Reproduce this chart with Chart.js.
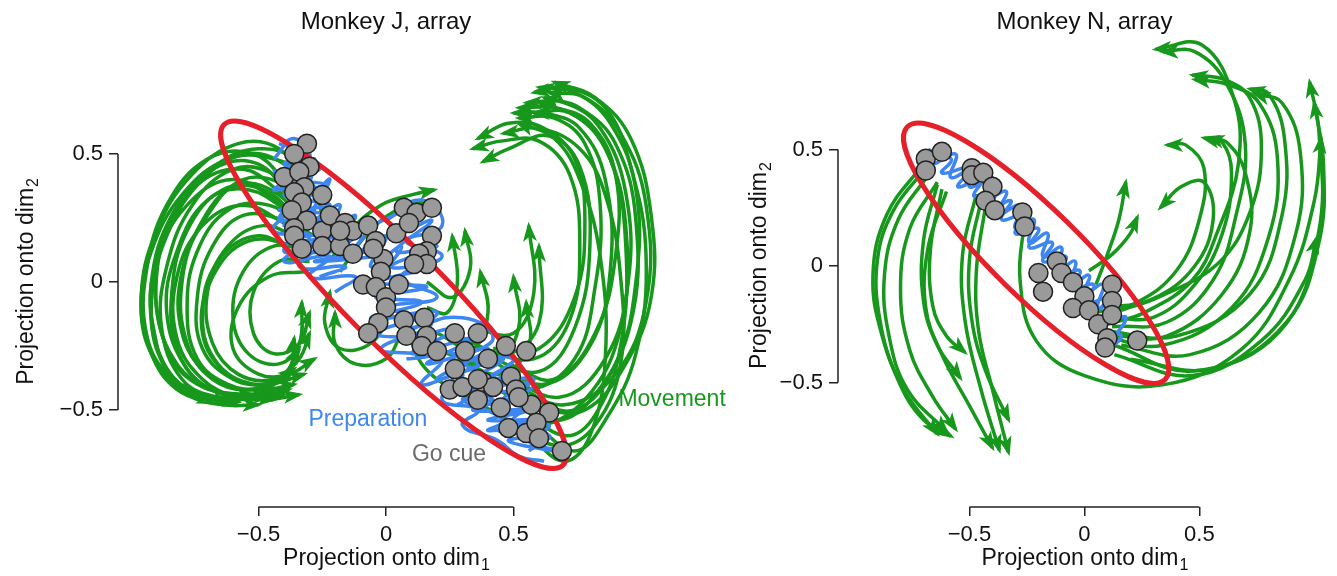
<!DOCTYPE html>
<html>
<head>
<meta charset="utf-8">
<script src="https://cdn.jsdelivr.net/npm/chart.js@4.4.1/dist/chart.umd.min.js"></script>
<style>
html, body { margin: 0; padding: 0; background: #fff; }
#wrap { position: relative; width: 1337px; height: 576px; overflow: hidden; }
#cj { position: absolute; left: 0; top: 0; }
#cn { position: absolute; left: 700px; top: 0; }
</style>
</head>
<body>
<div id="wrap">
  <canvas id="cj" width="780" height="576"></canvas>
  <canvas id="cn" width="637" height="576"></canvas>
</div>
<script>
// axis ticks
var tickVals = [-0.5, 0, 0.5];
var tickText = ['\u22120.5', '0', '0.5'];

// ---- Monkey J ----
var jGoCue = [[-0.31,0.54],[-0.36,0.50],[-0.30,0.45],[-0.40,0.41],[-0.34,0.43],[-0.32,0.37],[-0.25,0.34],[-0.36,0.35],[-0.33,0.31],[-0.37,0.28],
  [-0.31,0.24],[-0.36,0.21],[-0.36,0.18],[-0.33,0.13],[-0.25,0.20],[-0.25,0.14],[-0.22,0.26],[-0.18,0.14],[-0.16,0.23],[-0.13,0.20],
  [-0.13,0.11],[-0.18,0.20],[-0.07,0.22],[-0.04,0.16],[-0.01,0.09],[-0.02,0.04],[-0.09,-0.01],[-0.04,-0.02],[0.00,-0.06],[0.00,-0.10],
  [0.05,-0.01],[-0.03,-0.16],[0.07,-0.15],[0.15,-0.14],[0.04,0.19],[0.07,0.29],[0.12,0.27],[0.18,0.29],[0.09,0.23],[0.18,0.18],
  [0.16,0.12],[0.13,0.11],[0.16,0.07],[0.11,0.07],[-0.07,-0.20],[0.08,-0.21],[0.16,-0.21],[0.14,-0.25],[0.20,-0.27],[0.27,-0.20],
  [0.36,-0.20],[0.31,-0.27],[0.27,-0.34],[0.25,-0.42],[0.30,-0.41],[0.36,-0.46],[0.40,-0.30],[0.47,-0.25],[0.55,-0.27],[0.49,-0.37],
  [0.38,-0.39],[0.42,-0.41],[0.51,-0.42],[0.45,-0.49],[0.57,-0.48],[0.64,-0.51],[0.48,-0.57],[0.55,-0.59],[0.59,-0.55],[0.60,-0.61],
  [0.69,-0.66],[0.52,-0.45],[0.36,-0.38],[-0.05,0.13]];

var jPrep1 = [[-0.42,0.54],[-0.30,0.50],[-0.40,0.46],[-0.26,0.44],[-0.42,0.40],[-0.24,0.38],[-0.40,0.34],[-0.22,0.30],[-0.42,0.28],[-0.18,0.26],
  [-0.40,0.22],[-0.14,0.22],[-0.38,0.16],[-0.10,0.18],[-0.34,0.12],[-0.08,0.12],[-0.28,0.08],[-0.02,0.10]];
var jPrep2 = [[-0.36,0.52],[-0.34,0.40],[-0.28,0.48],[-0.30,0.34],[-0.22,0.40],[-0.30,0.24],[-0.18,0.30],[-0.26,0.16],[-0.12,0.26],[-0.20,0.12],
  [-0.06,0.22],[-0.14,0.10],[0.00,0.18],[-0.06,0.06],[0.06,0.14],[-0.02,0.02]];
var jPrep3 = [[-0.06,0.22],[0.10,0.28],[0.02,0.18],[0.18,0.24],[0.04,0.12],[0.20,0.14],[0.02,0.06],[0.18,0.06],[-0.02,0.00],[0.16,-0.02],
  [-0.04,-0.06],[0.14,-0.08],[-0.06,-0.14],[0.12,-0.14],[-0.04,-0.20],[0.10,-0.22]];
var jPrep4 = [[0.00,-0.14],[0.20,-0.12],[0.06,-0.22],[0.28,-0.18],[0.10,-0.28],[0.34,-0.22],[0.16,-0.32],[0.40,-0.26],[0.20,-0.38],[0.46,-0.30],
  [0.24,-0.44],[0.50,-0.36],[0.28,-0.48]];
var jPrep5 = [[0.26,-0.30],[0.44,-0.40],[0.30,-0.42],[0.52,-0.44],[0.34,-0.50],[0.56,-0.50],[0.40,-0.54],[0.60,-0.54],[0.44,-0.58],[0.62,-0.60],
  [0.48,-0.62],[0.66,-0.66],[0.54,-0.64]];
var jPrep6 = [[0.36,-0.30],[0.50,-0.30],[0.42,-0.38],[0.58,-0.38],[0.46,-0.46],[0.60,-0.46],[0.50,-0.54],[0.64,-0.56],[0.56,-0.62],[0.68,-0.66]];
var jPrep7 = [[-0.44,0.48],[-0.36,0.56],[-0.30,0.46],[-0.44,0.36],[-0.32,0.38],[-0.42,0.24],[-0.28,0.28],[-0.40,0.12],[-0.24,0.16],[-0.34,0.06],
  [-0.16,0.06],[-0.26,0.02]];
var jPrep8 = [[0.00,0.24],[0.14,0.32],[0.22,0.22],[0.08,0.16],[0.22,0.10],[0.06,0.02],[0.20,-0.06],[0.02,-0.10],[0.18,-0.16],[-0.02,-0.26],[0.12,-0.28]];
var jPrep9 = [[0.10,-0.18],[0.30,-0.14],[0.42,-0.22],[0.30,-0.30],[0.50,-0.30],[0.38,-0.40],[0.58,-0.40],[0.44,-0.50],[0.62,-0.50],[0.50,-0.58],
  [0.64,-0.60],[0.56,-0.66]];
var jPrep10 = [[0.20,-0.26],[0.36,-0.32],[0.26,-0.38],[0.42,-0.46],[0.30,-0.46],[0.46,-0.54],[0.40,-0.58],[0.54,-0.56]];
var jPrep11 = [[-0.44,0.44],[-0.38,0.30],[-0.44,0.20],[-0.30,0.18],[-0.40,0.08],[-0.22,0.10],[-0.30,0.02],[-0.12,0.02],[-0.20,-0.04]];
var jPrep12 = [[0.08,-0.30],[0.22,-0.30],[0.14,-0.40],[0.30,-0.36],[0.22,-0.46],[0.36,-0.50],[0.30,-0.56],[0.44,-0.62],[0.52,-0.68],[0.62,-0.70]];

var jMove = [
  [[-0.30,0.32],[-0.40,0.46],[-0.55,0.50],[-0.72,0.40],[-0.86,0.18],[-0.92,-0.08],[-0.88,-0.30],[-0.76,-0.43],[-0.60,-0.46],[-0.46,-0.44]],
  [[-0.32,0.28],[-0.44,0.42],[-0.60,0.44],[-0.76,0.30],[-0.86,0.06],[-0.88,-0.18],[-0.80,-0.38],[-0.66,-0.45],[-0.52,-0.44]],
  [[-0.34,0.24],[-0.48,0.36],[-0.64,0.36],[-0.78,0.20],[-0.84,-0.04],[-0.82,-0.26],[-0.72,-0.40],[-0.58,-0.44],[-0.42,-0.42]],
  [[-0.36,0.30],[-0.50,0.46],[-0.68,0.44],[-0.84,0.26],[-0.92,0.00],[-0.90,-0.24],[-0.84,-0.38],[-0.76,-0.44]],
  [[-0.30,0.20],[-0.46,0.30],[-0.62,0.28],[-0.74,0.12],[-0.78,-0.10],[-0.74,-0.30],[-0.62,-0.40],[-0.48,-0.42],[-0.36,-0.40]],
  [[-0.33,0.16],[-0.48,0.22],[-0.62,0.14],[-0.70,-0.04],[-0.68,-0.24],[-0.58,-0.36],[-0.44,-0.38],[-0.34,-0.30],[-0.30,-0.20]],
  [[-0.30,0.12],[-0.44,0.14],[-0.56,0.04],[-0.60,-0.14],[-0.54,-0.28],[-0.42,-0.32],[-0.34,-0.24],[-0.33,-0.08]],
  [[-0.38,0.38],[-0.52,0.50],[-0.70,0.48],[-0.86,0.30],[-0.94,0.04],[-0.94,-0.20],[-0.86,-0.36],[-0.72,-0.45],[-0.58,-0.47]],
  [[-0.28,0.26],[-0.40,0.38],[-0.56,0.40],[-0.70,0.26],[-0.80,0.04],[-0.80,-0.20],[-0.70,-0.36],[-0.56,-0.42],[-0.44,-0.40],[-0.36,-0.34]],
  [[-0.40,0.34],[-0.56,0.44],[-0.74,0.38],[-0.88,0.16],[-0.90,-0.10],[-0.82,-0.32],[-0.68,-0.42],[-0.50,-0.45],[-0.38,-0.42]],
  [[-0.34,0.10],[-0.50,0.18],[-0.66,0.08],[-0.72,-0.14],[-0.66,-0.32],[-0.52,-0.40],[-0.40,-0.38]],
  [[-0.30,0.36],[-0.42,0.52],[-0.58,0.54],[-0.76,0.42],[-0.90,0.20],[-0.96,-0.06],[-0.92,-0.28],[-0.82,-0.42],[-0.68,-0.47]],
  [[-0.26,0.30],[-0.36,0.48],[-0.50,0.52],[-0.66,0.46],[-0.82,0.28],[-0.90,0.02],[-0.86,-0.26],[-0.74,-0.40],[-0.56,-0.44],[-0.40,-0.44]],
  [[-0.32,0.20],[-0.42,0.34],[-0.58,0.38],[-0.72,0.24],[-0.80,0.00],[-0.78,-0.24],[-0.68,-0.38],[-0.54,-0.42],[-0.40,-0.36],[-0.34,-0.26]],
  [[-0.30,0.08],[-0.42,0.08],[-0.52,-0.04],[-0.52,-0.20],[-0.44,-0.28],[-0.34,-0.24],[-0.30,-0.12]],
  [[-0.36,0.26],[-0.54,0.36],[-0.70,0.32],[-0.82,0.12],[-0.86,-0.12],[-0.78,-0.34],[-0.64,-0.44],[-0.48,-0.46],[-0.34,-0.44]],
  [[-0.34,0.14],[-0.54,0.16],[-0.68,0.02],[-0.72,-0.20],[-0.62,-0.36],[-0.48,-0.40],[-0.38,-0.34],[-0.36,-0.22]],
  [[-0.40,0.30],[-0.60,0.40],[-0.78,0.30],[-0.90,0.08],[-0.92,-0.16],[-0.86,-0.34],[-0.74,-0.44],[-0.62,-0.47]],
  [[-0.28,0.18],[-0.40,0.24],[-0.56,0.26],[-0.68,0.14],[-0.74,-0.06],[-0.72,-0.26],[-0.60,-0.38],[-0.46,-0.40],[-0.32,-0.36]],
  [[-0.38,0.22],[-0.56,0.30],[-0.72,0.22],[-0.82,0.02],[-0.82,-0.22],[-0.72,-0.38],[-0.58,-0.45],[-0.44,-0.46]],
  [[-0.32,0.04],[-0.46,0.02],[-0.58,-0.10],[-0.60,-0.26],[-0.50,-0.36],[-0.38,-0.36],[-0.28,-0.30]],
  [[-0.24,0.22],[-0.30,0.40],[-0.44,0.48],[-0.62,0.48],[-0.80,0.34],[-0.92,0.12],[-0.96,-0.12],[-0.90,-0.32],[-0.78,-0.44],[-0.64,-0.48],[-0.50,-0.48]],
  [[-0.22,0.08],[-0.14,0.20],[-0.02,0.30],[0.10,0.34],[0.19,0.36]],
  [[-0.18,0.04],[-0.08,0.18],[0.04,0.28],[0.16,0.31]],
  [[0.02,-0.12],[-0.06,-0.24],[-0.18,-0.26],[-0.24,-0.16],[-0.22,-0.04]],
  [[0.06,-0.20],[0.00,-0.30],[-0.12,-0.32],[-0.20,-0.24],[-0.20,-0.12]],
  [[0.50,-0.40],[0.70,-0.48],[0.90,-0.36],[1.02,-0.08],[1.02,0.30],[0.92,0.58],[0.78,0.72],[0.64,0.74]],
  [[0.45,-0.35],[0.68,-0.45],[0.86,-0.30],[0.95,0.00],[0.94,0.35],[0.84,0.60],[0.70,0.70],[0.55,0.70]],
  [[0.40,-0.30],[0.62,-0.40],[0.80,-0.25],[0.88,0.05],[0.86,0.40],[0.76,0.60],[0.62,0.66],[0.50,0.66]],
  [[0.52,-0.48],[0.70,-0.60],[0.82,-0.52],[0.92,-0.25],[0.94,0.15],[0.88,0.48],[0.76,0.64],[0.60,0.70]],
  [[0.35,-0.25],[0.58,-0.30],[0.72,-0.15],[0.76,0.15],[0.72,0.42],[0.60,0.55],[0.45,0.55],[0.34,0.52]],
  [[0.38,-0.28],[0.60,-0.35],[0.74,-0.18],[0.80,0.15],[0.76,0.45],[0.64,0.57],[0.48,0.52],[0.38,0.47]],
  [[0.58,-0.55],[0.74,-0.66],[0.86,-0.54],[0.98,-0.28],[1.02,0.10],[0.96,0.45],[0.86,0.68],[0.70,0.76],[0.58,0.74]],
  [[0.56,-0.60],[0.70,-0.70],[0.80,-0.60],[0.86,-0.30],[0.84,0.10],[0.76,0.40],[0.66,0.56],[0.52,0.62]],
  [[0.08,-0.12],[0.14,-0.32],[0.34,-0.46],[0.58,-0.56],[0.78,-0.46],[0.92,-0.18],[0.94,0.22],[0.86,0.52],[0.72,0.66],[0.58,0.66]],
  [[0.44,-0.42],[0.66,-0.54],[0.82,-0.44],[0.96,-0.16],[0.98,0.24],[0.90,0.54],[0.76,0.68],[0.62,0.72]],
  [[0.48,-0.32],[0.66,-0.38],[0.82,-0.20],[0.90,0.10],[0.90,0.42],[0.80,0.62],[0.66,0.68],[0.52,0.68]],
  [[0.42,-0.26],[0.60,-0.26],[0.74,-0.06],[0.78,0.24],[0.74,0.48],[0.62,0.60],[0.48,0.62],[0.36,0.56]],
  [[0.60,-0.50],[0.78,-0.50],[0.94,-0.32],[1.04,-0.06],[1.04,0.26],[0.96,0.56],[0.82,0.72],[0.66,0.78]],
  [[0.50,-0.55],[0.68,-0.64],[0.82,-0.56],[0.92,-0.32],[0.92,0.02],[0.86,0.34],[0.76,0.52],[0.60,0.60],[0.46,0.58]],
  [[0.36,-0.34],[0.56,-0.42],[0.74,-0.30],[0.82,-0.02],[0.84,0.30],[0.78,0.54],[0.66,0.64],[0.52,0.64]],
  [[0.54,-0.44],[0.74,-0.50],[0.90,-0.32],[0.98,0.00],[0.98,0.36],[0.88,0.62],[0.74,0.74],[0.60,0.76]],
  [[0.30,-0.22],[0.48,-0.28],[0.60,-0.16],[0.60,0.14]],
  [[0.28,-0.30],[0.45,-0.36],[0.56,-0.25],[0.55,-0.08]],
  [[0.20,-0.20],[0.34,-0.26],[0.40,-0.12],[0.37,0.04]],
  [[0.16,0.00],[0.26,-0.06],[0.33,0.05],[0.31,0.20]],
  [[0.16,-0.10],[0.24,-0.12],[0.28,0.00],[0.26,0.18]],
  [[0.24,-0.28],[0.42,-0.32],[0.52,-0.18],[0.50,0.02]],
  [[0.34,-0.18],[0.50,-0.20],[0.58,-0.04],[0.56,0.22]]
];

// ---- Monkey N ----
var nGoCue = [[-0.69,0.46],[-0.62,0.49],[-0.69,0.41],[-0.49,0.42],[-0.49,0.39],[-0.44,0.40],[-0.40,0.34],[-0.43,0.28],[-0.39,0.24],[-0.27,0.23],
  [-0.26,0.17],[-0.20,-0.03],[-0.18,-0.11],[-0.12,0.02],[-0.10,-0.03],[-0.05,-0.07],[0.00,-0.13],[-0.05,-0.18],[0.02,-0.19],[0.06,-0.25],
  [0.12,-0.08],[0.12,-0.15],[0.12,-0.21],[0.10,-0.31],[0.09,-0.35],[0.23,-0.32]];

var nPrep1 = [[-0.68,0.50],[-0.58,0.46],[-0.62,0.40],[-0.50,0.42],[-0.55,0.34],[-0.44,0.38],[-0.48,0.30],[-0.38,0.33],[-0.42,0.24],[-0.32,0.28],
  [-0.36,0.20],[-0.26,0.22],[-0.30,0.14],[-0.20,0.16],[-0.24,0.08],[-0.14,0.10],[-0.18,0.02],[-0.08,0.04],[-0.12,-0.04],[-0.02,-0.02],
  [-0.06,-0.10],[0.04,-0.08],[0.00,-0.16],[0.10,-0.14],[0.04,-0.22],[0.14,-0.20],[0.08,-0.28],[0.16,-0.30],[0.10,-0.36]];
var nPrep2 = [[-0.62,0.52],[-0.66,0.44],[-0.56,0.48],[-0.58,0.38],[-0.46,0.44],[-0.50,0.34],[-0.40,0.38],[-0.44,0.28],[-0.34,0.32],[-0.38,0.22],
  [-0.28,0.26],[-0.30,0.16],[-0.22,0.20],[-0.24,0.10],[-0.16,0.14],[-0.18,0.04],[-0.10,0.08],[-0.12,-0.02],[-0.04,0.02],[-0.06,-0.08],
  [0.02,-0.04],[0.00,-0.12],[0.08,-0.08],[0.06,-0.18],[0.14,-0.14],[0.10,-0.24],[0.18,-0.22],[0.12,-0.32]];

var nMove = [
  [[-0.69,0.42],[-0.83,0.24],[-0.90,0.03],[-0.89,-0.23],[-0.81,-0.49],[-0.70,-0.66],[-0.58,-0.73]],
  [[-0.68,0.39],[-0.81,0.20],[-0.87,-0.04],[-0.85,-0.30],[-0.77,-0.53],[-0.60,-0.71]],
  [[-0.70,0.44],[-0.86,0.22],[-0.92,-0.04],[-0.88,-0.30],[-0.78,-0.54],[-0.64,-0.72]],
  [[-0.64,0.36],[-0.76,0.16],[-0.80,-0.10],[-0.76,-0.36],[-0.66,-0.56],[-0.56,-0.70]],
  [[-0.64,0.35],[-0.70,0.11],[-0.70,-0.15],[-0.64,-0.34],[-0.54,-0.48]],
  [[-0.62,0.33],[-0.67,0.07],[-0.66,-0.17],[-0.60,-0.30],[-0.52,-0.37]],
  [[-0.60,0.32],[-0.68,0.08],[-0.69,-0.18],[-0.62,-0.38],[-0.50,-0.60],[-0.40,-0.78]],
  [[-0.45,0.28],[-0.50,0.03],[-0.49,-0.23],[-0.43,-0.45],[-0.33,-0.66]],
  [[-0.43,0.26],[-0.47,-0.02],[-0.46,-0.28],[-0.40,-0.53],[-0.33,-0.80]],
  [[-0.47,0.31],[-0.53,0.05],[-0.52,-0.23],[-0.45,-0.53],[-0.37,-0.79]],
  [[0.13,-0.34],[0.47,-0.45],[0.85,-0.28],[1.02,0.15],[1.02,0.58],[0.98,0.79]],
  [[0.13,-0.38],[0.47,-0.47],[0.77,-0.32],[0.96,-0.06],[1.01,0.12]],
  [[0.10,-0.28],[0.40,-0.30],[0.72,-0.12],[0.86,0.22],[0.87,0.55],[0.80,0.74],[0.72,0.76]],
  [[0.10,-0.25],[0.26,-0.20],[0.47,-0.06],[0.58,0.15],[0.67,0.44],[0.65,0.72],[0.51,0.95],[0.31,0.93]],
  [[0.16,-0.19],[0.33,-0.13],[0.58,0.01],[0.72,0.23],[0.77,0.51],[0.72,0.72],[0.61,0.80],[0.47,0.82]],
  [[0.12,-0.22],[0.30,-0.22],[0.48,-0.08],[0.60,0.14],[0.64,0.40],[0.60,0.53],[0.52,0.55]],
  [[0.10,-0.18],[0.30,-0.14],[0.48,0.00],[0.56,0.20],[0.52,0.36],[0.42,0.34],[0.33,0.25]],
  [[0.05,-0.08],[0.10,0.05],[0.15,0.20],[0.18,0.36]],
  [[0.02,-0.02],[0.12,0.05],[0.20,0.14],[0.23,0.21]],
  [[0.14,-0.30],[0.36,-0.30],[0.60,-0.12],[0.72,0.15],[0.70,0.40],[0.62,0.53],[0.54,0.55]],
  [[-0.26,0.20],[-0.28,-0.06],[-0.21,-0.32],[0.00,-0.47],[0.34,-0.51],[0.68,-0.36],[0.89,-0.06],[1.00,0.28],[1.03,0.55]],
  [[0.08,-0.30],[0.34,-0.34],[0.64,-0.18],[0.80,0.12],[0.84,0.46],[0.76,0.70],[0.62,0.78],[0.48,0.80]],
  [[0.12,-0.26],[0.36,-0.24],[0.56,-0.06],[0.66,0.22],[0.70,0.52],[0.62,0.78],[0.48,0.92],[0.34,0.92]],
  [[0.16,-0.34],[0.46,-0.38],[0.76,-0.20],[0.92,0.14],[0.94,0.48],[0.86,0.70],[0.74,0.74]],
  [[0.04,-0.20],[0.22,-0.16],[0.40,-0.02],[0.50,0.20],[0.52,0.42],[0.44,0.52],[0.36,0.52]],
  [[0.20,-0.40],[0.56,-0.44],[0.88,-0.24],[1.02,0.10],[1.04,0.44],[1.00,0.70]]
];

// fitted ellipses: centre x, centre y, semi-major, semi-minor, angle (deg)
var jEllipse = [0.03, -0.05, 0.94, 0.19, -45];
var nEllipse = [-0.21, 0.055, 0.78, 0.19, -44];

var GREEN = '#17981c', BLUE = '#3e86f0', RED = '#e5202a', GRAY = '#9a9a9a';
var FONT = "'Liberation Sans', Arial, Helvetica, sans-serif";

function pts(a) { return a.map(function (p) { return { x: p[0], y: p[1] }; }); }

function buildDatasets(goCue, prep, move) {
  var ds = [{ data: pts(goCue), goCue: true, order: 0, showLine: false,
    pointRadius: 9.5, backgroundColor: GRAY, borderColor: '#222', borderWidth: 1.5 }];
  prep.forEach(function (p) {
    ds.push({ data: pts(p), order: 1, showLine: true, borderColor: BLUE, borderWidth: 3.5, pointRadius: 0, tension: 0.5 });
  });
  move.forEach(function (p) {
    ds.push({ data: pts(p), order: 2, showLine: true, borderColor: GREEN, borderWidth: 3.5, pointRadius: 0, tension: 0.4, arrow: true });
  });
  return ds;
}

function drawLabel(ctx, main, sub, size) {
  ctx.font = size + 'px ' + FONT;
  var w1 = ctx.measureText(main).width;
  ctx.font = Math.round(size * 0.68) + 'px ' + FONT;
  var w2 = ctx.measureText(sub).width;
  var x0 = -(w1 + w2) / 2;
  ctx.textAlign = 'left';
  ctx.textBaseline = 'alphabetic';
  ctx.font = size + 'px ' + FONT;
  ctx.fillText(main, x0, 0);
  ctx.font = Math.round(size * 0.68) + 'px ' + FONT;
  ctx.fillText(sub, x0 + w1 + 1, 5);
}

var decor = {
  id: 'decor',
  beforeDatasetDraw: function (chart, args, opts) {
    if (!chart.data.datasets[args.index].goCue) return;
    var xs = chart.scales.x, ys = chart.scales.y, e = opts.ellipse, ctx = chart.ctx;
    var ang = e[4] * Math.PI / 180;
    var cx = xs.getPixelForValue(e[0]), cy = ys.getPixelForValue(e[1]);
    var ax = xs.getPixelForValue(e[0] + e[2] * Math.cos(ang)), ay = ys.getPixelForValue(e[1] + e[2] * Math.sin(ang));
    var bx = xs.getPixelForValue(e[0] - e[3] * Math.sin(ang)), by = ys.getPixelForValue(e[1] + e[3] * Math.cos(ang));
    ctx.save();
    ctx.beginPath();
    ctx.ellipse(cx, cy, Math.hypot(ax - cx, ay - cy), Math.hypot(bx - cx, by - cy), Math.atan2(ay - cy, ax - cx), 0, 2 * Math.PI);
    ctx.strokeStyle = RED;
    ctx.lineWidth = 5;
    ctx.stroke();
    ctx.restore();
  },
  afterDatasetDraw: function (chart, args) {
    var ds = chart.data.datasets[args.index];
    if (!ds.arrow) return;
    var el = args.meta.data, p = el[el.length - 1], q = el[el.length - 2];
    var dx = p.x - q.x, dy = p.y - q.y, len = Math.hypot(dx, dy);
    dx /= len; dy /= len;
    var L = 16, W = 7, ctx = chart.ctx;
    ctx.save();
    ctx.fillStyle = GREEN;
    ctx.beginPath();
    ctx.moveTo(p.x + dx * 4, p.y + dy * 4);
    ctx.lineTo(p.x - dx * L - dy * W, p.y - dy * L + dx * W);
    ctx.lineTo(p.x - dx * (L - 5), p.y - dy * (L - 5));
    ctx.lineTo(p.x - dx * L + dy * W, p.y - dy * L - dx * W);
    ctx.closePath();
    ctx.fill();
    ctx.restore();
  },
  afterDraw: function (chart, args, opts) {
    var xs = chart.scales.x, ys = chart.scales.y, ca = chart.chartArea, ctx = chart.ctx;
    ctx.save();
    // axis lines only across the tick span
    ctx.strokeStyle = '#222';
    ctx.lineWidth = 1.5;
    ctx.beginPath();
    ctx.moveTo(xs.getPixelForValue(tickVals[0]), ca.bottom);
    ctx.lineTo(xs.getPixelForValue(tickVals[tickVals.length - 1]), ca.bottom);
    ctx.moveTo(ca.left, ys.getPixelForValue(tickVals[0]));
    ctx.lineTo(ca.left, ys.getPixelForValue(tickVals[tickVals.length - 1]));
    ctx.stroke();
    ctx.fillStyle = '#111';
    // title
    ctx.font = '24px ' + FONT;
    ctx.textAlign = 'center';
    ctx.textBaseline = 'alphabetic';
    ctx.fillText(opts.title, xs.getPixelForValue(0), 29);
    // x axis title
    ctx.save();
    ctx.translate(xs.getPixelForValue(0), 565);
    drawLabel(ctx, 'Projection onto dim', '1', 23);
    ctx.restore();
    // y axis title
    ctx.save();
    ctx.translate(opts.yTitleX, ys.getPixelForValue(0));
    ctx.rotate(-Math.PI / 2);
    drawLabel(ctx, 'Projection onto dim', '2', 23);
    ctx.restore();
    // annotations
    ctx.font = '23px ' + FONT;
    ctx.textAlign = 'center';
    ctx.textBaseline = 'middle';
    (opts.notes || []).forEach(function (n) {
      ctx.fillStyle = n[3];
      ctx.fillText(n[0], xs.getPixelForValue(n[1]), ys.getPixelForValue(n[2]));
    });
    ctx.restore();
  }
};

function axis(min, max, fit) {
  return {
    type: 'linear', min: min, max: max,
    border: { display: false },
    grid: { drawOnChartArea: false, drawTicks: true, tickLength: 9, color: '#222', lineWidth: 1.5 },
    ticks: {
      font: { family: FONT, size: 22 }, color: '#111', padding: 6, maxRotation: 0, autoSkip: false,
      callback: function (v) { var i = tickVals.indexOf(v); return i < 0 ? '' : tickText[i]; }
    },
    afterBuildTicks: function (s) { s.ticks = tickVals.map(function (v) { return { value: v }; }); },
    afterFit: fit
  };
}

function makeChart(id, c) {
  return new Chart(document.getElementById(id).getContext('2d'), {
    type: 'scatter',
    data: { datasets: buildDatasets(c.goCue, c.prep, c.move) },
    options: {
      responsive: false, animation: false, devicePixelRatio: 1, events: [],
      layout: { padding: c.padding },
      scales: {
        x: axis(c.xr[0], c.xr[1], function (s) { s.height = 69; }),
        y: axis(c.yr[0], c.yr[1], function (s) { s.width = c.yWidth; })
      },
      plugins: {
        legend: { display: false }, tooltip: { enabled: false },
        decor: { title: c.title, ellipse: c.ellipse, yTitleX: c.yTitleX, notes: c.notes }
      }
    },
    plugins: [decor]
  });
}

makeChart('cj', {
  goCue: jGoCue,
  prep: [jPrep1, jPrep2, jPrep3, jPrep4, jPrep5, jPrep6, jPrep7, jPrep8, jPrep9, jPrep10, jPrep11, jPrep12],
  move: jMove,
  xr: [-1.051, 1.153], yr: [-0.879, 0.945], yWidth: 118,
  padding: { left: 0, right: 100, top: 40, bottom: 0 },
  title: 'Monkey J, array', ellipse: jEllipse, yTitleX: 33,
  notes: [['Preparation', -0.071, -0.539, BLUE], ['Go cue', 0.247, -0.676, '#6b6b6b'], ['Movement', 1.122, -0.461, GREEN]]
});

makeChart('cn', {
  goCue: nGoCue, prep: [nPrep1, nPrep2], move: nMove,
  xr: [-1.072, 1.051], yr: [-1.034, 1.013], yWidth: 138,
  padding: { left: 0, right: 0, top: 30, bottom: 0 },
  title: 'Monkey N, array', ellipse: nEllipse, yTitleX: 66,
  notes: []
});
</script>
</body>
</html>
